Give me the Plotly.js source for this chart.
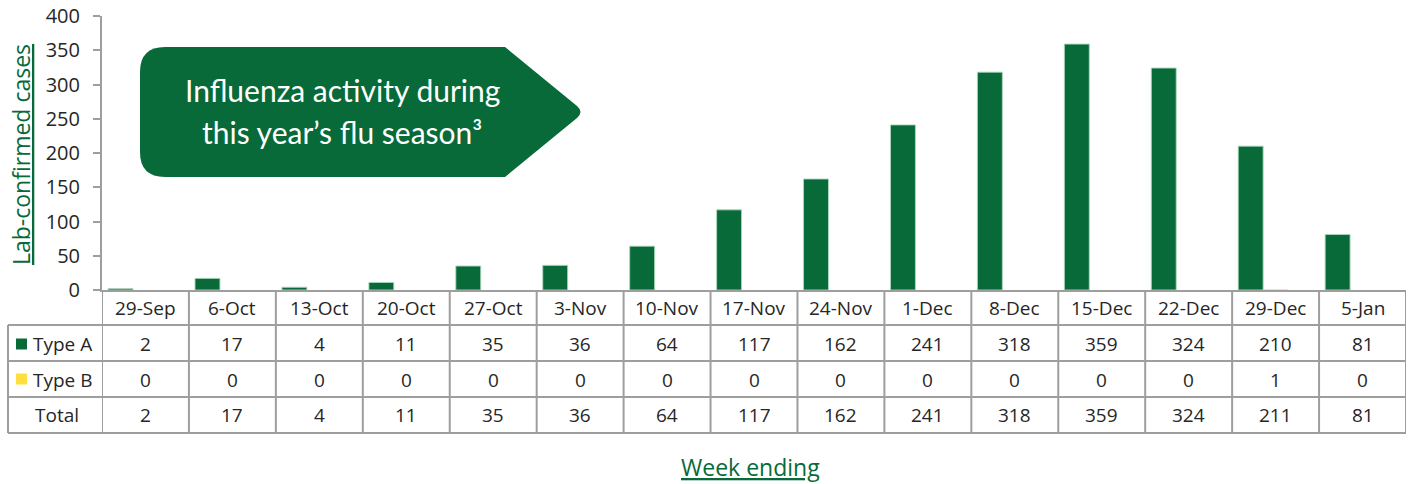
<!DOCTYPE html>
<html>
<head>
<meta charset="utf-8">
<script src="https://cdn.plot.ly/plotly-3.0.1.min.js"></script>
<style>html,body{margin:0;padding:0;background:#fff;}#chart{width:1416px;height:484px;}</style>
</head>
<body>
<div id="chart"></div>
<script>
const weeks = ['29-Sep','6-Oct','13-Oct','20-Oct','27-Oct','3-Nov','10-Nov','17-Nov','24-Nov','1-Dec','8-Dec','15-Dec','22-Dec','29-Dec','5-Jan'];
const typeA = [2,17,4,11,35,36,64,117,162,241,318,359,324,210,81];
const typeB = [0,0,0,0,0,0,0,0,0,0,0,0,0,1,0];
const total = [2,17,4,11,35,36,64,117,162,241,318,359,324,211,81];
const rowNames = ['Type A','Type B','Total'];

const GREEN = '#076a38';
const YELLOW = '#ffdf3f';
const GRID = '#9e9e9e';
const TXT = '#262626';
const FONT = 'Open Sans, Noto Sans, sans-serif';

// pixel -> paper helpers (plot area: x 102..1406, y 16..290)
const L = 102, R = 1406, T = 16, B = 290;
const px = x => (x - L) / (R - L);
const py = y => (B - y) / (B - T);

const traces = [
  {type:'bar', name:'Type A', x:weeks, y:typeA, marker:{color:GREEN, line:{color:'rgba(170,215,185,0.9)', width:1}}},
  {type:'bar', name:'Type B', x:weeks, y:typeB, marker:{color:YELLOW}},
  {type:'bar', name:'Total', x:weeks, y:total, marker:{color:'rgba(0,0,0,0)'}, hoverinfo:'skip'}
];

const shapes = [];
const annotations = [];
const line = {color:GRID, width:2};

// table horizontal lines
[325, 361, 397, 433].forEach(y => {
  shapes.push({type:'line', xref:'paper', yref:'paper', x0:px(8), x1:px(R), y0:py(y), y1:py(y), line});
});
// vertical lines at category boundaries
for (let i = 0; i <= weeks.length; i++) {
  shapes.push({type:'line', xref:'x', yref:'paper', x0:i-0.5, x1:i-0.5, y0:py(B), y1:py(433), line});
}
shapes.push({type:'line', xref:'paper', yref:'paper', x0:px(8), x1:px(8), y0:py(325), y1:py(433), line});

// legend keys
[[344, GREEN], [379, YELLOW]].forEach(([cy, c]) => {
  shapes.push({type:'rect', xref:'paper', yref:'paper', x0:px(16), x1:px(27), y0:py(cy-5.5), y1:py(cy+5.5), fillcolor:c, line:{width:0}});
});

const cell = (xref, x, y, text, size, extra) => Object.assign({xref, yref:'paper', x, y:py(y), text, showarrow:false,
  xanchor:'center', yanchor:'middle', font:{family:FONT, size, color:TXT}}, extra || {});

// header + values
const rowY = [344, 380, 415];
const rows = [typeA, typeB, total];
weeks.forEach((w, i) => {
  annotations.push(cell('x', w, 308, w, 19));
  rows.forEach((r, k) => annotations.push(cell('x', w, rowY[k], String(r[i]), 19)));
});
annotations.push(cell('paper', px(31), rowY[0], rowNames[0], 19, {xanchor:'left'}));
annotations.push(cell('paper', px(31), rowY[1], rowNames[1], 19, {xanchor:'left'}));
annotations.push(cell('paper', px(57), rowY[2], rowNames[2], 19));

// axis titles
annotations.push({xref:'paper', yref:'paper', x:px(21), y:py(155), xanchor:'center', yanchor:'middle', text:'<u>Lab-confirmed cases</u>', textangle:-90, showarrow:false, font:{family:FONT, size:23, color:GREEN}});
annotations.push({xref:'paper', yref:'paper', x:px(750), y:py(467), xanchor:'center', yanchor:'middle', text:'<u>Week ending</u>', showarrow:false, font:{family:FONT, size:23, color:GREEN}});

// callout shape
const pts = (x, y) => px(x).toFixed(5) + ',' + py(y).toFixed(5);
const path = 'M' + pts(165,47) + ' L' + pts(505,47) + ' L' + pts(577,106) + ' Q' + pts(584,112) + ' ' + pts(577,118) +
  ' L' + pts(505,177) + ' L' + pts(165,177) + ' Q' + pts(140,177) + ' ' + pts(140,152) + ' L' + pts(140,72) +
  ' Q' + pts(140,47) + ' ' + pts(165,47) + ' Z';
shapes.push({type:'path', xref:'paper', yref:'paper', path, fillcolor:GREEN, line:{width:0}});
annotations.push({xref:'paper', yref:'paper', x:px(342), y:py(90), xanchor:'center', yanchor:'middle', text:'Influenza activity during', showarrow:false, font:{family:'Lato, sans-serif', size:30, color:'#ffffff'}});
annotations.push({xref:'paper', yref:'paper', x:px(342), y:py(132), xanchor:'center', yanchor:'middle', text:'this year’s flu season³', showarrow:false, font:{family:'Lato, sans-serif', size:30, color:'#ffffff'}});

const layout = {
  width:1416, height:484,
  margin:{l:L, r:1416-R, t:T, b:484-B, pad:0},
  paper_bgcolor:'#ffffff', plot_bgcolor:'#ffffff',
  barmode:'group', bargap:0.14, bargroupgap:0,
  showlegend:false,
  xaxis:{type:'category', range:[-0.5, weeks.length-0.5], showticklabels:false, ticks:'', showgrid:false, zeroline:false, showline:true, linecolor:GRID, linewidth:2, fixedrange:true},
  yaxis:{range:[0,400], dtick:50, showgrid:false, zeroline:false, showline:true, linecolor:GRID, linewidth:2, ticks:'outside', ticklen:7, tickwidth:2, tickcolor:GRID, ticklabelstandoff:9, tickfont:{family:FONT, size:20, color:TXT}, fixedrange:true},
  shapes, annotations
};

Plotly.newPlot('chart', traces, layout, {displayModeBar:false, staticPlot:true});
</script>
</body>
</html>
